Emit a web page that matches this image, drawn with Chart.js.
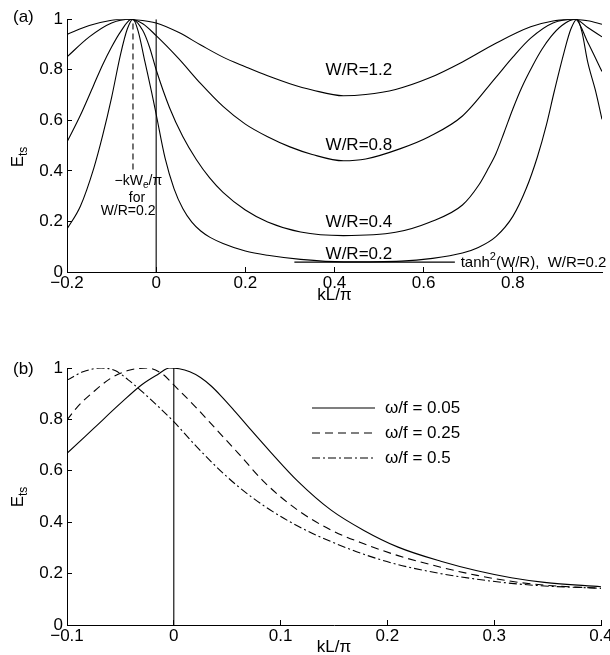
<!DOCTYPE html>
<html>
<head>
<meta charset="utf-8">
<script src="https://cdn.jsdelivr.net/npm/chart.js@4.4.1/dist/chart.umd.min.js"></script>
<style>
  html, body { margin: 0; padding: 0; background: #fff; overflow: hidden; }
  #wrap { position: relative; width: 610px; height: 655px; }
  #chartA { position: absolute; left: 0; top: 0; }
  #chartB { position: absolute; left: 0; top: 310px; }
</style>
</head>
<body>
<div id="wrap">
  <canvas id="chartA" width="610" height="310"></canvas>
  <canvas id="chartB" width="610" height="360"></canvas>
</div>
<script>
// ---------- panel (a): E_ts against kL/pi for four W/R ----------
const aTickX = [-0.2, 0, 0.2, 0.4, 0.6, 0.8];
const tickY = [0, 0.2, 0.4, 0.6, 0.8, 1];

const wr12X = [-0.2, -0.15, -0.1, -0.074, -0.04, 0, 0.05, 0.1, 0.15, 0.2, 0.25, 0.3, 0.35, 0.42, 0.47, 0.537, 0.612, 0.687, 0.762, 0.84, 0.89, 0.933, 0.968, 1.0];
const wr12Y = [0.94, 0.975, 0.996, 1.0, 0.997, 0.985, 0.948, 0.898, 0.85, 0.812, 0.776, 0.745, 0.72, 0.697, 0.702, 0.722, 0.767, 0.831, 0.905, 0.97, 0.993, 1.0, 0.994, 0.98];

const wr08X = [-0.2, -0.15, -0.1, -0.058, -0.03, 0, 0.05, 0.1, 0.15, 0.2, 0.25, 0.3, 0.35, 0.42, 0.47, 0.548, 0.612, 0.687, 0.762, 0.8, 0.84, 0.89, 0.94, 0.968, 1.0];
const wr08Y = [0.851, 0.93, 0.985, 1.0, 0.982, 0.935, 0.845, 0.745, 0.655, 0.585, 0.535, 0.495, 0.465, 0.44, 0.447, 0.488, 0.535, 0.617, 0.77, 0.85, 0.925, 0.985, 1.0, 0.967, 0.93];

const wr04X = [-0.2, -0.17, -0.14, -0.12, -0.1, -0.08, -0.055, -0.03, -0.015, 0, 0.03, 0.06, 0.09, 0.12, 0.15, 0.2, 0.25, 0.324, 0.42, 0.537, 0.612, 0.687, 0.724, 0.745, 0.762, 0.78, 0.8, 0.82, 0.845, 0.865, 0.885, 0.91, 0.94, 0.968, 1.0];
const wr04Y = [0.514, 0.62, 0.74, 0.82, 0.89, 0.95, 1.0, 0.955, 0.89, 0.80, 0.65, 0.535, 0.445, 0.372, 0.315, 0.245, 0.198, 0.158, 0.144, 0.157, 0.196, 0.265, 0.345, 0.41, 0.468, 0.55, 0.645, 0.73, 0.818, 0.88, 0.93, 0.975, 1.0, 0.909, 0.793];

const wr02X = [-0.2, -0.17, -0.14, -0.12, -0.1, -0.08, -0.065, -0.052, -0.04, -0.025, -0.01, 0, 0.02, 0.04, 0.06, 0.08, 0.1, 0.121, 0.15, 0.2, 0.25, 0.324, 0.42, 0.55, 0.62, 0.687, 0.72, 0.762, 0.8, 0.83, 0.855, 0.875, 0.893, 0.915, 0.93, 0.944, 0.955, 0.968, 0.985, 1.0];
const wr02Y = [0.17, 0.26, 0.41, 0.54, 0.69, 0.86, 0.96, 1.0, 0.95, 0.83, 0.71, 0.624, 0.45, 0.33, 0.25, 0.197, 0.162, 0.137, 0.113, 0.083, 0.066, 0.05, 0.04, 0.043, 0.054, 0.075, 0.095, 0.14, 0.22, 0.33, 0.455, 0.58, 0.715, 0.87, 0.96, 1.0, 0.95, 0.83, 0.72, 0.604];

// tanh^2(W/R) level for W/R=0.2, the kW_e/pi marker and the kL/pi = 0 line
const tanhX = [0.31, 0.67];
const tanhY = [0.039, 0.039];
const markX = [-0.052, -0.052];
const markY = [0.405, 1.0];
const zeroX = [0, 0];
const zeroY = [0, 1];

// ---------- panel (b): three omega/f values ----------
const bTickX = [-0.1, 0, 0.1, 0.2, 0.3, 0.4];

const w005X = [-0.1, -0.075, -0.05, -0.03, -0.015, -0.004, 0.005, 0.015, 0.025, 0.035, 0.045, 0.055, 0.07, 0.09, 0.116, 0.147, 0.178, 0.21, 0.25, 0.284, 0.316, 0.347, 0.4];
const w005Y = [0.668, 0.765, 0.862, 0.935, 0.975, 1.0, 0.997, 0.985, 0.963, 0.93, 0.888, 0.842, 0.77, 0.676, 0.56, 0.448, 0.368, 0.303, 0.248, 0.211, 0.184, 0.166, 0.149];

const w025X = [-0.1, -0.09, -0.075, -0.059, -0.043, -0.025, -0.01, 0, 0.02, 0.04, 0.06, 0.085, 0.116, 0.147, 0.178, 0.21, 0.25, 0.284, 0.316, 0.347, 0.4];
const w025Y = [0.798, 0.85, 0.908, 0.96, 0.99, 1.0, 0.975, 0.934, 0.85, 0.76, 0.67, 0.555, 0.447, 0.37, 0.316, 0.27, 0.225, 0.193, 0.17, 0.155, 0.143];

const w05X = [-0.1, -0.085, -0.068, -0.055, -0.043, -0.028, 0, 0.02, 0.04, 0.06, 0.085, 0.116, 0.147, 0.178, 0.21, 0.25, 0.284, 0.316, 0.347, 0.4];
const w05Y = [0.953, 0.985, 1.0, 0.99, 0.955, 0.902, 0.791, 0.70, 0.615, 0.54, 0.462, 0.385, 0.325, 0.275, 0.235, 0.2, 0.178, 0.162, 0.152, 0.143];

const ink = '#000';
const fontFam = '"Liberation Sans", Arial, Helvetica, sans-serif';

const pts = (xs, ys) => xs.map((x, i) => ({ x: x, y: ys[i] }));
const fmt = v => (Math.round(v * 10) / 10).toString().replace('-', '\u2212');

function curve(label, xs, ys, dash) {
    return {
        label: label,
        data: pts(xs, ys),
        showLine: true,
        borderColor: ink,
        borderWidth: 1.1,
        borderDash: dash || [],
        pointRadius: 0,
        cubicInterpolationMode: 'monotone',
        fill: false
    };
}

function straight(xs, ys, dash) {
    return {
        label: '',
        data: pts(xs, ys),
        showLine: true,
        borderColor: ink,
        borderWidth: 1.1,
        borderDash: dash || [],
        pointRadius: 0,
        tension: 0,
        fill: false
    };
}

function scaleX(min, max, tickVals, boxH, titlePad) {
    return {
        type: 'linear',
        position: 'bottom',
        min: min,
        max: max,
        afterBuildTicks: s => { s.ticks = tickVals.map(v => ({ value: v })); },
        afterFit: s => { s.height = boxH; s.paddingLeft = 0; s.paddingRight = 0; },
        grid: { color: 'rgba(0,0,0,0)', tickColor: ink, tickLength: -5 },
        border: { display: true, color: ink, width: 1 },
        ticks: { color: ink, font: { family: fontFam, size: 17 }, padding: 6, maxRotation: 0, autoSkip: false, callback: fmt },
        title: { display: true, text: 'kL/\u03c0', color: ink, font: { family: fontFam, size: 17 }, padding: { top: 0, bottom: titlePad } }
    };
}

function scaleY() {
    return {
        type: 'linear',
        min: 0,
        max: 1,
        afterBuildTicks: s => { s.ticks = tickY.map(v => ({ value: v })); },
        afterFit: s => { s.width = 67; },
        grid: { color: 'rgba(0,0,0,0)', tickColor: ink, tickLength: -5 },
        border: { display: true, color: ink, width: 1 },
        ticks: { color: ink, font: { family: fontFam, size: 17 }, padding: 9, callback: fmt }
    };
}

// text with sub/superscripts, segments are [text, 'sub'|'sup'|'']
function drawRich(ctx, segs, x, y, size, align) {
    const small = Math.round(size * 0.72);
    const fontOf = k => (k ? small : size) + 'px ' + fontFam;
    let w = 0;
    segs.forEach(([t, k]) => { ctx.font = fontOf(k); w += ctx.measureText(t).width; });
    let cx = align === 'center' ? x - w / 2 : align === 'right' ? x - w : x;
    ctx.textBaseline = 'middle';
    ctx.textAlign = 'left';
    segs.forEach(([t, k]) => {
        ctx.font = fontOf(k);
        const dy = k === 'sub' ? size * 0.32 : k === 'sup' ? -size * 0.38 : 0;
        ctx.fillText(t, cx, y + dy);
        cx += ctx.measureText(t).width;
    });
}

const textLayer = {
    id: 'textLayer',
    afterDraw(chart, args, opts) {
        const ctx = chart.ctx;
        const xs = chart.scales.x, ys = chart.scales.y;
        ctx.save();
        ctx.fillStyle = ink;
        (opts.items || []).forEach(it => {
            const px = it.dx !== undefined ? xs.getPixelForValue(it.dx) : it.px;
            const py = it.dy !== undefined ? ys.getPixelForValue(it.dy) : it.py;
            if (it.rotate) {
                ctx.save();
                ctx.translate(px, py);
                ctx.rotate(-Math.PI / 2);
                drawRich(ctx, it.segs, 0, 0, it.size, 'center');
                ctx.restore();
            } else {
                drawRich(ctx, it.segs, px, py, it.size, it.align || 'left');
            }
        });
        // legend box for panel (b)
        const lg = opts.legend;
        if (lg) {
            chart.data.datasets.filter(ds => ds.inLegend).forEach((ds, i) => {
                const y = lg.y0 + i * lg.gap;
                ctx.beginPath();
                ctx.setLineDash(ds.borderDash || []);
                ctx.lineWidth = ds.borderWidth;
                ctx.strokeStyle = ink;
                ctx.moveTo(lg.x0, y);
                ctx.lineTo(lg.x1, y);
                ctx.stroke();
                ctx.setLineDash([]);
                drawRich(ctx, [[ds.label, '']], lg.textX, y, 17, 'left');
            });
        }
        ctx.restore();
    }
};

const ets = [['E', ''], ['ts', 'sub']];

new Chart(document.getElementById('chartA'), {
    type: 'scatter',
    data: {
        datasets: [
            curve('W/R=1.2', wr12X, wr12Y),
            curve('W/R=0.8', wr08X, wr08Y),
            curve('W/R=0.4', wr04X, wr04Y),
            curve('W/R=0.2', wr02X, wr02Y),
            straight(tanhX, tanhY),
            straight(markX, markY, [6, 4]),
            straight(zeroX, zeroY)
        ]
    },
    options: {
        responsive: false,
        animation: false,
        layout: { padding: { top: 15, right: 8, bottom: 0, left: 0 } },
        scales: { x: scaleX(-0.2, 1.0, aTickX, 38, 4), y: scaleY() },
        plugins: {
            legend: { display: false },
            tooltip: { enabled: false },
            textLayer: {
                items: [
                    { segs: [['(a)', '']], px: 13, py: 17, size: 17 },
                    { segs: ets, px: 18, py: 157, size: 17, rotate: true },
                    { segs: [['W/R=1.2', '']], dx: 0.38, dy: 0.797, size: 17 },
                    { segs: [['W/R=0.8', '']], dx: 0.38, dy: 0.5, size: 17 },
                    { segs: [['W/R=0.4', '']], dx: 0.38, dy: 0.198, size: 17 },
                    { segs: [['W/R=0.2', '']], dx: 0.38, dy: 0.07, size: 17 },
                    { segs: [['tanh', ''], ['2', 'sup'], ['(W/R),  W/R=0.2', '']], dx: 0.683, dy: 0.036, size: 15 },
                    { segs: [['\u2212kW', ''], ['e', 'sub'], ['/\u03c0', '']], dx: -0.04, dy: 0.36, size: 14, align: 'center' },
                    { segs: [['for', '']], dx: -0.043, dy: 0.292, size: 14, align: 'center' },
                    { segs: [['W/R=0.2', '']], dx: -0.063, dy: 0.241, size: 14, align: 'center' }
                ]
            }
        }
    },
    plugins: [textLayer]
});

const bSolid = curve('\u03c9/f = 0.05', w005X, w005Y);
const bDash = curve('\u03c9/f = 0.25', w025X, w025Y, [8, 5]);
const bDot = curve('\u03c9/f = 0.5', w05X, w05Y, [8, 3, 2, 3]);
[bSolid, bDash, bDot].forEach(ds => { ds.inLegend = true; });

new Chart(document.getElementById('chartB'), {
    type: 'scatter',
    data: {
        datasets: [bSolid, bDash, bDot, straight(zeroX, zeroY)]
    },
    options: {
        responsive: false,
        animation: false,
        layout: { padding: { top: 58, right: 9, bottom: 0, left: 0 } },
        scales: { x: scaleX(-0.1, 0.4, bTickX, 45, 12), y: scaleY() },
        plugins: {
            legend: { display: false },
            tooltip: { enabled: false },
            textLayer: {
                items: [
                    { segs: [['(b)', '']], px: 13, py: 59, size: 17 },
                    { segs: ets, px: 18, py: 187, size: 17, rotate: true }
                ],
                legend: { x0: 312, x1: 375, y0: 98, gap: 25, textX: 385 }
            }
        }
    },
    plugins: [textLayer]
});
</script>
</body>
</html>
